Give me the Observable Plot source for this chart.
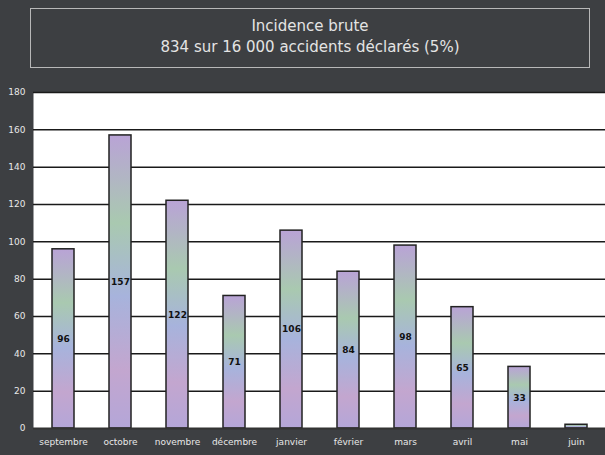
<!DOCTYPE html>
<html>
<head>
<meta charset="utf-8">
<script src="https://cdn.jsdelivr.net/npm/d3@7"></script>
<script src="https://cdn.jsdelivr.net/npm/@observablehq/plot@0.6"></script>
<style>
  html, body { margin: 0; padding: 0; }
  body { width: 605px; height: 455px; background: #3d3f42; overflow: hidden; font-family: "DejaVu Sans", sans-serif; }
  #title { position: absolute; left: 30px; top: 8px; width: 560px; height: 60px; border: 1px solid #b8b8b8; box-sizing: border-box;
           color: #e4e4e4; text-align: center; font-size: 15px; line-height: 21px; padding-top: 7px; font-family: "DejaVu Sans", sans-serif; }
  #chart { position: absolute; left: 0; top: 86px; }
</style>
</head>
<body>
<div id="title">Incidence brute<br>834 sur 16 000 accidents déclarés (5%)</div>
<div id="chart"></div>
<script>
const months = ["septembre", "octobre", "novembre", "décembre", "janvier", "février", "mars", "avril", "mai", "juin"];
const counts = [96, 157, 122, 71, 106, 84, 98, 65, 33, 2];
const yTicks = [0, 20, 40, 60, 80, 100, 120, 140, 160, 180];

const data = months.map((m, i) => ({month: m, n: counts[i]}));

const chart = Plot.plot({
  width: 605,
  height: 369,
  marginLeft: 33,
  marginRight: 0,
  marginTop: 6,
  marginBottom: 27,
  style: {background: "transparent", fontFamily: "DejaVu Sans, sans-serif"},
  x: {domain: months, paddingInner: 0.62, paddingOuter: 0.31, label: null},
  y: {domain: [0, 180], label: null},
  marks: [
    Plot.frame({fill: "white", stroke: "none"}),
    Plot.ruleY(yTicks.filter(d => d > 0), {stroke: "#1a1a1a", strokeWidth: 1.5}),
    Plot.barY(data, {x: "month", y: "n", fill: "url(#barGrad)", stroke: "#222", strokeWidth: 1.5}),
    Plot.text(data.filter(d => d.n > 10), {x: "month", y: d => d.n / 2, text: d => String(d.n), fill: "#111", fontSize: 9, fontWeight: "bold"}),
    Plot.ruleY([0], {stroke: "#333", strokeWidth: 2}),
    Plot.axisY({ticks: yTicks, tickSize: 0, tickPadding: 8, fill: "#e8e8e8", fontSize: 9}),
    Plot.axisX({tickSize: 0, tickPadding: 10, fill: "#e8e8e8", fontSize: 9})
  ]
});

const svg = d3.select(chart);
const defs = svg.insert("defs", ":first-child");
const g = defs.append("linearGradient").attr("id", "barGrad").attr("x1", 0).attr("y1", 0).attr("x2", 0).attr("y2", 1);
[["0%", "#b9a3d6"], ["30%", "#a9c9b0"], ["55%", "#a7b3dc"], ["80%", "#c3a6cf"], ["100%", "#b4a6d8"]]
  .forEach(([o, c]) => g.append("stop").attr("offset", o).attr("stop-color", c));

document.getElementById("chart").appendChild(chart);
</script>
</body>
</html>
